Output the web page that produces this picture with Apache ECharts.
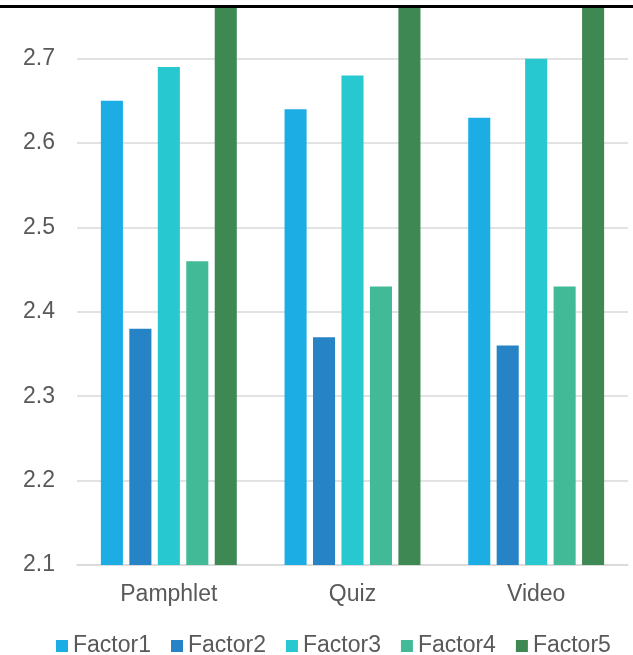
<!DOCTYPE html>
<html>
<head>
<meta charset="utf-8">
<script src="https://cdn.jsdelivr.net/npm/echarts@6/dist/echarts.min.js"></script>
<style>
  html, body { margin: 0; padding: 0; background: #fff; }
  #chart { width: 633px; height: 655px; }
</style>
</head>
<body>
<div id="chart"></div>
<script>
// Group categories and one value per group for each factor
const categories = ['Pamphlet', 'Quiz', 'Video'];
const factor1 = [2.65, 2.64, 2.63];
const factor2 = [2.38, 2.37, 2.36];
const factor3 = [2.69, 2.68, 2.70];
const factor4 = [2.46, 2.43, 2.43];
const factor5 = [2.82, 2.81, 2.82];
const seriesNames = ['Factor1', 'Factor2', 'Factor3', 'Factor4', 'Factor5'];
const seriesValues = [factor1, factor2, factor3, factor4, factor5];
const palette = ['#1CADE4', '#2683C6', '#27C8D0', '#42BA97', '#3E8853'];

const FONT = '"Liberation Sans", Arial, sans-serif';
const TEXT = '#595959';

const chart = echarts.init(document.getElementById('chart'), null, { renderer: 'canvas' });

chart.setOption({
  animation: false,
  color: palette,
  grid: { left: 77, right: 5, top: 8, bottom: 90, containLabel: false },
  legend: {
    data: seriesNames,
    left: 56,
    top: 634,
    padding: 0,
    icon: 'rect',
    itemWidth: 12,
    itemHeight: 12,
    itemGap: 20,
    textStyle: { fontFamily: FONT, fontSize: 23, lineHeight: 24, color: TEXT }
  },
  xAxis: {
    type: 'category',
    data: categories,
    axisLine: { show: true, lineStyle: { color: '#d9d9d9', width: 1.5 } },
    axisTick: { show: false },
    axisLabel: { fontFamily: FONT, fontSize: 23, color: TEXT, margin: 18 }
  },
  yAxis: {
    type: 'value',
    min: 2.1,
    max: 2.76,
    interval: 0.1,
    axisLine: { show: false },
    axisTick: { show: false },
    splitLine: { show: true, showMaxLine: false, lineStyle: { color: '#d9d9d9', width: 1.5 } },
    axisLabel: {
      fontFamily: FONT, fontSize: 23, color: TEXT, margin: 22,
      showMaxLabel: false,
      formatter: v => v.toFixed(1)
    }
  },
  series: seriesNames.map((name, i) => ({
    name: name,
    type: 'bar',
    data: seriesValues[i],
    clip: true,
    barGap: '29%',
    barCategoryGap: '26%',
    itemStyle: { color: palette[i] }
  })),
  graphic: [{
    type: 'rect',
    shape: { x: 0, y: 5, width: 633, height: 3 },
    style: { fill: '#000' },
    z: 100
  }]
});
</script>
</body>
</html>
